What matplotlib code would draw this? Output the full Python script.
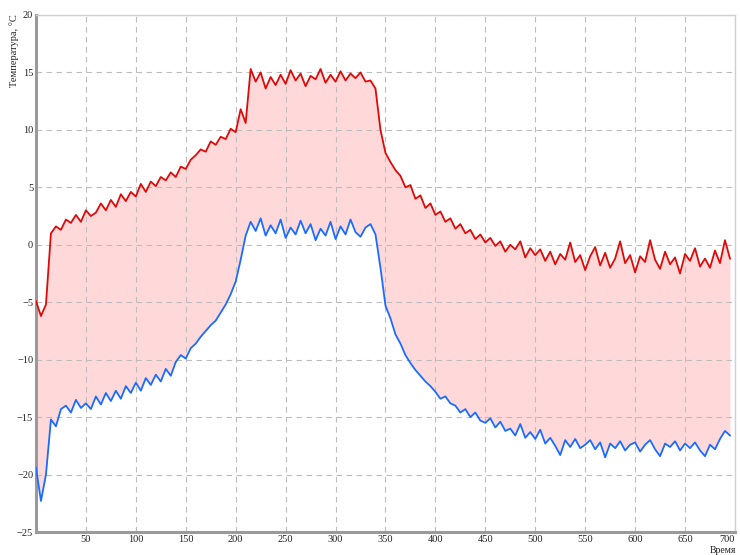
import numpy as np
import matplotlib
matplotlib.use("Agg")
import matplotlib.pyplot as plt

# time axis, 5-unit sampling
time = np.arange(0, 700, 5)

# upper (red) temperature curve
t_upper = [
    -4.9, -6.2, -5.2, 1.0, 1.6, 1.3, 2.2, 1.9, 2.6, 2.0,
    3.0, 2.5, 2.8, 3.6, 3.0, 3.9, 3.3, 4.4, 3.8, 4.6,
    4.2, 5.3, 4.6, 5.5, 5.1, 5.9, 5.6, 6.3, 5.9, 6.8,
    6.6, 7.4, 7.8, 8.3, 8.1, 9.0, 8.7, 9.4, 9.2, 10.1,
    9.8, 11.8, 10.6, 15.3, 14.2, 15.0, 13.6, 14.6, 13.9, 14.8,
    14.0, 15.2, 14.3, 14.9, 13.8, 14.7, 14.4, 15.3, 14.1, 14.8,
    14.2, 15.1, 14.3, 14.9, 14.5, 15.0, 14.2, 14.3, 13.6, 10.0,
    8.0, 7.2, 6.5, 6.0, 5.0, 5.2, 4.0, 4.3, 3.2, 3.6,
    2.6, 2.9, 2.0, 2.3, 1.4, 1.8, 1.0, 1.3, 0.5, 0.9,
    0.2, 0.6, -0.1, 0.3, -0.6, 0.0, -0.4, 0.3, -1.1, -0.3,
    -0.9, -0.4, -1.4, -0.6, -1.7, -0.8, -1.3, 0.2, -1.5, -0.9,
    -2.2, -1.0, -0.2, -1.8, -0.7, -2.0, -1.2, 0.3, -1.6, -0.9,
    -2.4, -1.0, -1.5, 0.4, -1.3, -2.1, -0.6, -1.7, -1.1, -2.5,
    -0.8, -1.4, -0.3, -1.9, -1.2, -2.0, -0.5, -1.6, 0.4, -1.2,
]

# lower (blue) temperature curve
t_lower = [
    -19.4, -22.3, -20.0, -15.2, -15.8, -14.3, -14.0, -14.6, -13.5, -14.2,
    -13.8, -14.3, -13.2, -13.9, -12.9, -13.6, -12.7, -13.4, -12.3, -12.9,
    -12.0, -12.7, -11.6, -12.2, -11.3, -11.9, -10.8, -11.4, -10.2, -9.6,
    -9.9, -9.0, -8.6, -8.0, -7.5, -7.0, -6.6, -5.9, -5.2, -4.3,
    -3.2, -1.3, 0.8, 2.0, 1.2, 2.3, 0.8, 1.7, 1.0, 2.2,
    0.6, 1.5, 0.9, 2.1, 1.0, 1.8, 0.4, 1.4, 0.8, 2.0,
    0.5, 1.6, 0.9, 2.2, 1.1, 0.7, 1.5, 1.8, 0.9, -2.0,
    -5.3, -6.4, -7.8, -8.6, -9.6, -10.3, -10.9, -11.4, -11.9, -12.3,
    -12.8, -13.4, -13.2, -13.8, -14.0, -14.6, -14.3, -15.0, -14.6, -15.3,
    -15.5, -15.1, -15.9, -15.4, -16.2, -16.0, -16.6, -15.6, -16.8, -16.3,
    -16.9, -16.1, -17.3, -16.8, -17.5, -18.3, -17.0, -17.6, -16.9, -17.7,
    -17.4, -17.0, -17.8, -17.2, -18.5, -17.3, -17.7, -17.1, -17.9, -17.4,
    -17.2, -18.0, -17.4, -17.0, -17.8, -18.4, -17.3, -17.6, -17.1, -17.9,
    -17.3, -17.7, -17.2, -17.9, -18.4, -17.4, -17.8, -16.9, -16.2, -16.6,
]

x_ticks = list(range(50, 701, 50))
y_ticks = list(range(-25, 21, 5))

plt.rcParams["font.family"] = ["Liberation Serif", "DejaVu Serif"]

fig = plt.figure(figsize=(7.4, 5.55), dpi=100)
ax = fig.add_axes([0.0486, 0.0414, 0.9446, 0.9316])

ax.fill_between(time, t_lower, t_upper, color="#ffd9d9", lw=0, zorder=1)
ax.plot(time, t_upper, color="#dd0a0a", lw=1.3, zorder=3)
ax.plot(time, t_lower, color="#1a6cff", lw=1.3, zorder=3)

ax.set_xlim(0, 700)
ax.set_ylim(-25, 20)
ax.set_xticks(x_ticks)
ax.set_yticks(y_ticks)
ax.tick_params(length=0, labelsize=7.5, pad=2, colors="#222222")
ax.get_xticklabels()[-1].set_horizontalalignment("right")
ax.grid(True, ls=(0, (5, 4)), color="#bdbdbd", lw=0.8, zorder=0)

for side in ("left", "bottom"):
    ax.spines[side].set_color("#9a9a9a")
    ax.spines[side].set_linewidth(2.2)
for side in ("top", "right"):
    ax.spines[side].set_color("#cfcfd8")
    ax.spines[side].set_linewidth(1.0)

fig.text(0.012, 0.975, "Температура, °C", rotation=90, ha="left", va="top",
         fontsize=7.5, color="#222222")
fig.text(0.995, 0.0, "Время", ha="right", va="bottom", fontsize=7,
         color="#222222")

fig.savefig("out.png", dpi=100)
